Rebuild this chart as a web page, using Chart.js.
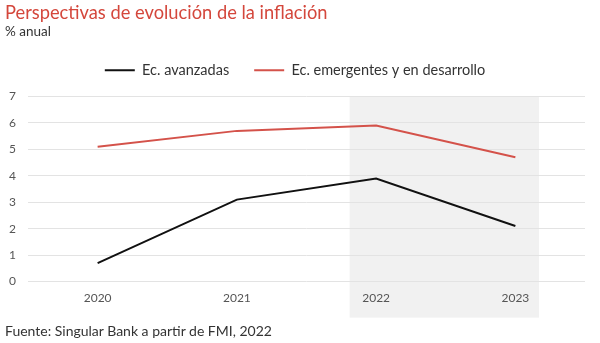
<!DOCTYPE html>
<html><head><meta charset="utf-8">
<script src="https://cdn.jsdelivr.net/npm/chart.js@4.4.0/dist/chart.umd.min.js"></script>
<style>
html,body{margin:0;padding:0;background:#fff;}
#wrap{position:relative;width:600px;height:343px;font-family:Lato,"Open Sans",sans-serif;}
#title{position:absolute;left:5px;top:1px;font-size:18.3px;color:#d4473c;white-space:nowrap;}
#sub{position:absolute;left:5px;top:23px;font-size:13.5px;color:#333;white-space:nowrap;}
#foot{position:absolute;left:5px;top:322px;font-size:14px;color:#333;white-space:nowrap;}
canvas{position:absolute;left:0;top:0;}
</style></head>
<body><div id="wrap">
<canvas id="c" width="600" height="343"></canvas>
<div id="title">Perspectivas de evolución de la inflación</div>
<div id="sub">% anual</div>
<div id="foot">Fuente: Singular Bank a partir de FMI, 2022</div>
</div>
<script>
const categories = ["2020", "2021", "2022", "2023"];
const avanzadas = [0.7, 3.1, 3.9, 2.1];
const emergentes = [5.1, 5.7, 5.9, 4.7];
const seriesNames = ["Ec. avanzadas", "Ec. emergentes y en desarrollo"];
const yTicks = [0, 1, 2, 3, 4, 5, 6, 7];
const bandFrom = 1.81, bandTo = 3.17; // shaded forecast span, in category units

const bandPlugin = {
  id: 'band',
  beforeDraw(chart) {
    const {ctx, scales:{x, y}, chartArea} = chart;
    const l = x.getPixelForValue(bandFrom), r = x.getPixelForValue(bandTo);
    const t = y.getPixelForValue(yTicks[yTicks.length-1]);
    const b = chartArea.bottom + 36;
    ctx.save(); ctx.fillStyle = '#f1f1f1'; ctx.fillRect(l, t, r-l, b-t); ctx.restore();
  }
};
const legendGap = {
  id: 'legendGap',
  afterInit(chart) {
    const lg = chart.legend;
    const orig = lg.fit;
    lg.fit = function(){ orig.call(this); this.height += 9; };
  }
};

new Chart(document.getElementById('c'), {
  type: 'line',
  data: {
    labels: categories,
    datasets: [
      {label: seriesNames[0], data: avanzadas, borderColor: '#111', backgroundColor: '#111', borderWidth: 2, pointRadius: 0, tension: 0},
      {label: seriesNames[1], data: emergentes, borderColor: '#d4524a', backgroundColor: '#d4524a', borderWidth: 2, pointRadius: 0, tension: 0}
    ]
  },
  options: {
    responsive: false, animation: false,
    layout: {padding: {top: 38, left: 5, right: 15, bottom: 29}},
    plugins: {
      legend: {position: 'top', align: 'center',
        labels: {usePointStyle: true, pointStyle: 'line', pointStyleWidth: 30, color: '#333', padding: 25,
          font: {family: 'Lato', size: 14.5}}},
      tooltip: {enabled: false}
    },
    scales: {
      x: {offset: true, grid: {display: false, drawTicks: false}, border: {display: false},
        ticks: {color: '#555', font: {family: 'Lato', size: 12}, padding: 9}},
      y: {min: 0, max: 7, afterFit(s){ s.width = 23; },
        afterBuildTicks(s){ s.ticks = yTicks.map(v => ({value: v})); },
        grid: {color: '#e3e3e3', drawTicks: false}, border: {display: false},
        ticks: {color: '#555', font: {family: 'Lato', size: 12}, padding: 12}}
    }
  },
  plugins: [bandPlugin, legendGap]
});
</script>
</body></html>
